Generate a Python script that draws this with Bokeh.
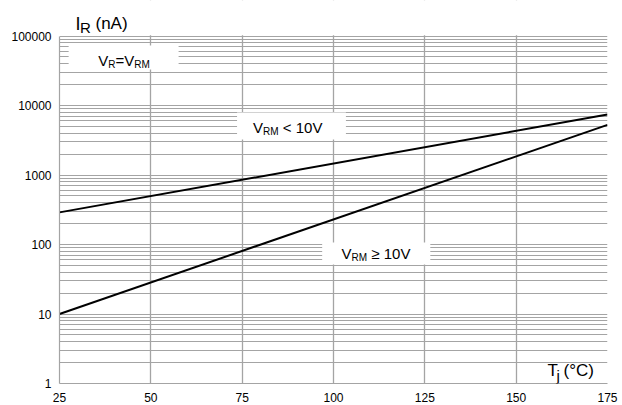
from bokeh.plotting import figure
from bokeh.models import FixedTicker, NumeralTickFormatter, Label
from bokeh.embed import file_html
from bokeh.resources import INLINE

# Reverse leakage current vs junction temperature
temps = [25, 175]
ir_vrm_low = [290, 7400]     # VRM < 10V
ir_vrm_high = [10, 5270]     # VRM >= 10V

x_ticks = [25, 50, 75, 100, 125, 150, 175]
y_ticks = [1, 10, 100, 1000, 10000, 100000]
y_tick_labels = ["1", "10", "100", "1000", "10000", "100000"]

FONT = "Liberation Sans"
GRID = "#a4a4a4"

# the frame runs up to the top edge so the axis title above the grid can be
# drawn in data space; the grid itself ends at 100000
Y_TOP = 10 ** 5.511

p = figure(width=622, height=405, y_axis_type="log",
           x_range=(25, 175), y_range=(1, Y_TOP),
           output_backend="svg", toolbar_location=None,
           min_border_left=59, min_border_right=15,
           min_border_top=0, min_border_bottom=22)
p.background_fill_color = "white"
p.border_fill_color = "white"
p.outline_line_color = None

minor = [m * 10 ** k for k in range(5) for m in range(2, 10)]
yt = FixedTicker(ticks=y_ticks, minor_ticks=minor)
xt = FixedTicker(ticks=x_ticks)
p.yaxis.ticker = yt
p.xaxis.ticker = xt
p.ygrid.ticker = yt
p.xgrid.ticker = xt
p.yaxis.formatter = NumeralTickFormatter(format="0")
p.yaxis.major_label_overrides = dict(zip(y_ticks, y_tick_labels))
p.yaxis.bounds = (1, 100000)

for ax in (p.xaxis, p.yaxis):
    ax.axis_line_color = GRID
    ax.axis_line_width = 1.2
    ax.major_tick_line_color = None
    ax.minor_tick_line_color = None
    ax.major_tick_out = 0
    ax.major_tick_in = 0
    ax.major_label_text_font = FONT
    ax.major_label_text_font_size = "12px"
    ax.major_label_text_color = "black"
p.yaxis.major_label_standoff = 4
p.xaxis.major_label_standoff = 9

p.xgrid.grid_line_color = GRID
p.xgrid.grid_line_width = 1.3
p.ygrid.grid_line_color = GRID
p.ygrid.grid_line_width = 1.2
p.ygrid.minor_grid_line_color = GRID
p.ygrid.minor_grid_line_width = 1.0

# blank strip above the grid, and white label panels that break the grid
p.quad(left=[25, 27.5, 73.6, 96.9], right=[175, 57.6, 103.4, 126.5],
       bottom=[10 ** 5.012, 33000, 3240, 51.6],
       top=[Y_TOP, 73000, 7930, 107],
       fill_color="white", line_color=None)

# characteristic curves
p.line(temps, ir_vrm_low, line_color="black", line_width=2)
p.line(temps, ir_vrm_high, line_color="black", line_width=2)

BASE_DY = 5  # lifts the label text onto its baseline


def add_text(x, y, parts):
    """parts: (text, font size px, x offset px, y offset px)"""
    for txt, size, dx, dy in parts:
        p.add_layout(Label(x=x, y=y, x_offset=dx, y_offset=dy + BASE_DY,
                           text=txt, text_font=FONT,
                           text_font_size=f"{size}px", text_color="black",
                           text_baseline="alphabetic", text_align="left"))


add_text(35.6, 38250, [("V", 15, 0, 0), ("R", 10, 10.0, -4),
                       ("=", 15, 17.2, 0), ("V", 15, 26.0, 0),
                       ("RM", 10, 36.0, -4)])
add_text(77.97, 4090, [("V", 15, 0, 0), ("RM", 10, 10.0, -4),
                       ("< 10V", 15, 29.8, 0)])
add_text(102.2, 61.9, [("V", 15, 0, 0), ("RM", 10, 10.0, -4),
                       ("\u2265 10V", 15, 29.8, 0)])

# axis titles
add_text(29.38, 128200, [("I", 18, 0, 0), ("R", 15, 4.6, -4),
                         ("(nA)", 17, 20, 0)])
add_text(158.6, 1.303, [("T", 17, 0, 0), ("j", 15, 9.0, -5),
                        ("(\u00b0C)", 17, 16, 0)])

open("out.html", "w").write(file_html(p, INLINE))
